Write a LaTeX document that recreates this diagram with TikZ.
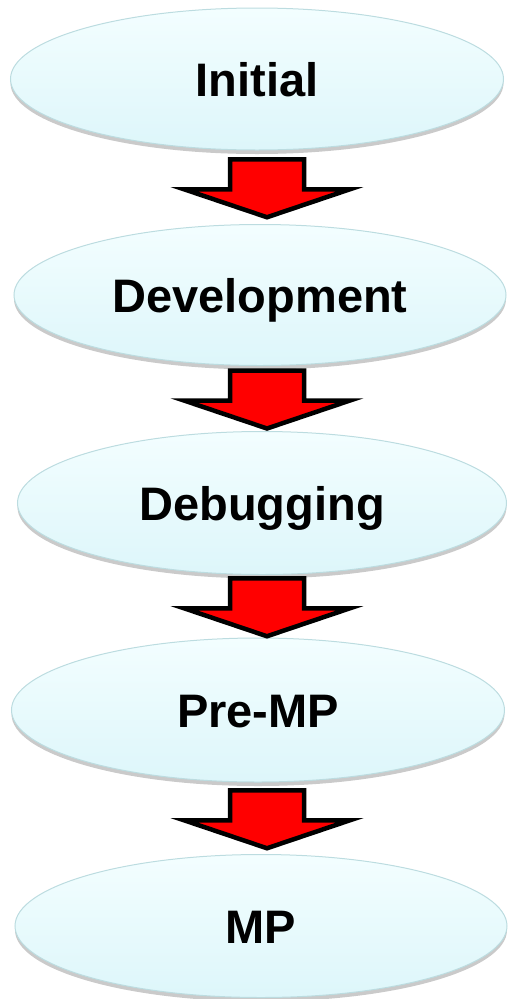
\documentclass[tikz,border=0pt]{standalone}
\usepackage{fontspec}
\setmainfont{Liberation Sans}
\usetikzlibrary{shapes.geometric,shadows,calc}

\definecolor{phasetop}{HTML}{F3FEFF}
\definecolor{phasebot}{HTML}{DDF6FA}
\definecolor{phaseline}{HTML}{BCDCE0}

\tikzset{
  phase/.style={ellipse, draw=phaseline, line width=1pt,
    top color=phasetop, bottom color=phasebot,
    drop shadow={shadow xshift=0pt, shadow yshift=-4pt, opacity=.35, fill=black!60},
    outer sep=0pt, inner sep=0pt, text depth=0pt, text height=34pt,
    font=\bfseries\fontsize{47}{47}\selectfont},
  arrowline/.style={fill=red, draw=black, line width=4.5pt, line join=miter},
  downarrow/.pic={
    \filldraw[arrowline] (-37,28) -- (37,28) -- (37,-2) -- (83,-2)
      -- (0,-30) -- (-83,-2) -- (-37,-2) -- cycle;
  },
}

\begin{document}
\begin{tikzpicture}
  [
    x=1pt, y=1pt,
  ]

  \useasboundingbox (0,0) rectangle (507,-999);

  % phases
  \foreach \name/\x/\y/\w/\h/\txt in {
      e1/257/79/493/142/Initial,
      e2/260/295/492/141/Development,
      e3/262/503/489/143/Debugging,
      e4/258/710/493/144/Pre-MP,
      e5/261/926/492/143/MP} {
    \node [phase, minimum width=\w, minimum height=\h] (\name) at (\x,-\y) {\txt};
  }

  % arrows
  \coordinate (ax) at (267,0);
  \foreach \i [evaluate=\i as \j using int(\i+1)] in {1,2,3,4} {
    \coordinate (m\i) at ($(e\i.south)!.5!(e\j.north)$);
    \pic at (ax |- m\i) {downarrow};
  }

\end{tikzpicture}
\end{document}
